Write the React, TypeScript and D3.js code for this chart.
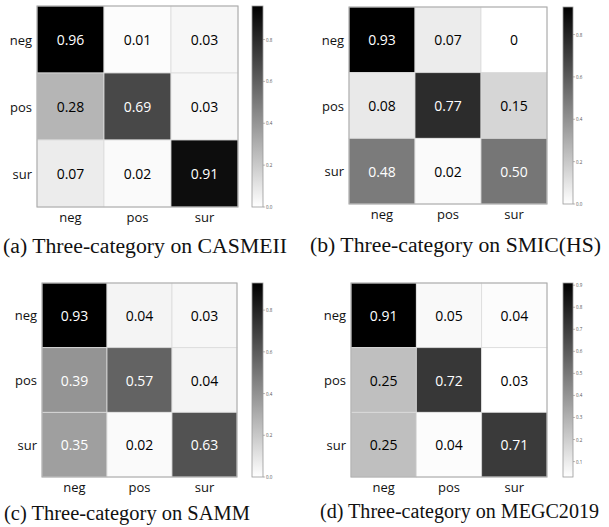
import React from "react";
import * as d3 from "d3";

const categories = ["neg", "pos", "sur"];

const casmeii = [
  [0.96, 0.01, 0.03],
  [0.28, 0.69, 0.03],
  [0.07, 0.02, 0.91],
];
const smicHS = [
  [0.93, 0.07, 0],
  [0.08, 0.77, 0.15],
  [0.48, 0.02, 0.5],
];
const samm = [
  [0.93, 0.04, 0.03],
  [0.39, 0.57, 0.04],
  [0.35, 0.02, 0.63],
];
const megc2019 = [
  [0.91, 0.05, 0.04],
  [0.25, 0.72, 0.03],
  [0.25, 0.04, 0.71],
];
const annotations = [
  ["0.96", "0.01", "0.03", "0.28", "0.69", "0.03", "0.07", "0.02", "0.91"],
  ["0.93", "0.07", "0", "0.08", "0.77", "0.15", "0.48", "0.02", "0.50"],
  ["0.93", "0.04", "0.03", "0.39", "0.57", "0.04", "0.35", "0.02", "0.63"],
  ["0.91", "0.05", "0.04", "0.25", "0.72", "0.03", "0.25", "0.04", "0.71"],
];
const captions = [
  "(a) Three-category on CASMEII",
  "(b) Three-category on SMIC(HS)",
  "(c) Three-category on SAMM",
  "(d) Three-category on MEGC2019",
];
const colorMins = [0, 0, 0, 0.03];
const colorbarTicks = [
  [0, 0.2, 0.4, 0.6, 0.8],
  [0, 0.2, 0.4, 0.6, 0.8],
  [0, 0.2, 0.4, 0.6, 0.8],
  [0.1, 0.2, 0.3, 0.4, 0.5, 0.6, 0.7, 0.8, 0.9],
];
const matrices = [casmeii, smicHS, samm, megc2019];

// layout (pixels)
const layouts = [
  { gx: 37, gy: 6, gw: 201, gh: 201, cx: 252, cw: 11, capX: 3, capY: 253, capW: 284 },
  { gx: 349, gy: 7, gw: 198, gh: 197, cx: 563, cw: 10, capX: 310, capY: 252, capW: 291 },
  { gx: 42, gy: 283, gw: 195, gh: 194, cx: 252, cw: 11, capX: 4, capY: 520, capW: 246 },
  { gx: 351, gy: 283, gw: 196, gh: 194, cx: 563, cw: 10, capX: 320, capY: 518, capW: 279 },
];

const SANS = "'Open Sans', 'DejaVu Sans', sans-serif";

function grayColor(t: number) {
  const v = Math.round(255 * (1 - Math.max(0, Math.min(1, t))));
  return d3.rgb(v, v, v).formatHex();
}
function textColorFor(t: number) {
  const v = 1 - Math.max(0, Math.min(1, t));
  const lin = v <= 0.03928 ? v / 12.92 : Math.pow((v + 0.055) / 1.055, 2.4);
  return lin > 0.408 ? "#000" : "#fff";
}

function Panel({ idx }: { idx: number }) {
  const m = matrices[idx];
  const L = layouts[idx];
  const flat = m.flat();
  const vmin = colorMins[idx];
  const vmax = d3.max(flat) as number;
  const norm = d3.scaleLinear().domain([vmin, vmax]).range([0, 1]);
  const x = d3.scaleBand().domain(categories).range([L.gx, L.gx + L.gw]);
  const y = d3.scaleBand().domain(categories).range([L.gy, L.gy + L.gh]);
  const cy = d3.scaleLinear().domain([vmin, vmax]).range([L.gy + L.gh, L.gy]);
  const gradId = `grad${idx}`;
  const stops = d3.range(0, 1.0001, 0.1);
  return (
    <g>
      <defs>
        <linearGradient id={gradId} x1="0" y1="1" x2="0" y2="0">
          {stops.map((s) => (
            <stop key={s} offset={s} stopColor={grayColor(s)} />
          ))}
        </linearGradient>
      </defs>
      {m.map((row, i) =>
        row.map((v, j) => {
          const t = norm(v);
          return (
            <g key={`${i}-${j}`}>
              <rect
                x={x(categories[j])}
                y={y(categories[i])}
                width={x.bandwidth()}
                height={y.bandwidth()}
                fill={grayColor(t)}
                stroke="#dcdcdc"
                strokeWidth={0.8}
              />
              <text
                x={(x(categories[j]) as number) + x.bandwidth() / 2}
                y={(y(categories[i]) as number) + y.bandwidth() / 2}
                textAnchor="middle"
                dominantBaseline="central"
                fontFamily={SANS}
                fontSize={14}
                fill={textColorFor(t)}
              >
                {annotations[idx][i * 3 + j]}
              </text>
            </g>
          );
        })
      )}
      <rect
        x={L.gx}
        y={L.gy}
        width={L.gw}
        height={L.gh}
        fill="none"
        stroke="#a8a8a8"
        strokeWidth={1}
      />
      {categories.map((c) => (
        <text
          key={"l" + c}
          x={L.gx - 5}
          y={(y(c) as number) + y.bandwidth() / 2}
          textAnchor="end"
          dominantBaseline="central"
          fontFamily={SANS}
          fontSize={13}
          fill="#111"
        >
          {c}
        </text>
      ))}
      {categories.map((c) => (
        <text
          key={"b" + c}
          x={(x(c) as number) + x.bandwidth() / 2}
          y={L.gy + L.gh + 10}
          textAnchor="middle"
          dominantBaseline="central"
          fontFamily={SANS}
          fontSize={13}
          fill="#111"
        >
          {c}
        </text>
      ))}
      <rect
        x={L.cx}
        y={L.gy}
        width={L.cw}
        height={L.gh}
        fill={`url(#${gradId})`}
        stroke="#999"
        strokeWidth={0.8}
      />
      {colorbarTicks[idx]
        .filter((t) => t >= vmin - 1e-9 && t <= vmax + 1e-9)
        .map((t) => (
          <g key={"t" + t}>
            <line
              x1={L.cx + L.cw}
              x2={L.cx + L.cw + 2}
              y1={cy(t)}
              y2={cy(t)}
              stroke="#777"
              strokeWidth={0.5}
            />
            <text
              x={L.cx + L.cw + 3}
              y={cy(t)}
              dominantBaseline="central"
              fontFamily={SANS}
              fontSize={4.5}
              fill="#555"
            >
              {t.toFixed(1)}
            </text>
          </g>
        ))}
      <text
        x={L.capX}
        y={L.capY}
        fontFamily="'Liberation Serif', 'Times New Roman', serif"
        fontSize={20.5}
        textLength={L.capW}
        lengthAdjust="spacingAndGlyphs"
        fill="#111"
      >
        {captions[idx]}
      </text>
    </g>
  );
}

export default function App() {
  return (
    <svg
      width={609}
      height={527}
      style={{ position: "absolute", left: 0, top: 0, background: "#fff" }}
    >
      <rect width={609} height={527} fill="#fff" />
      {[0, 1, 2, 3].map((i) => (
        <Panel key={i} idx={i} />
      ))}
    </svg>
  );
}
